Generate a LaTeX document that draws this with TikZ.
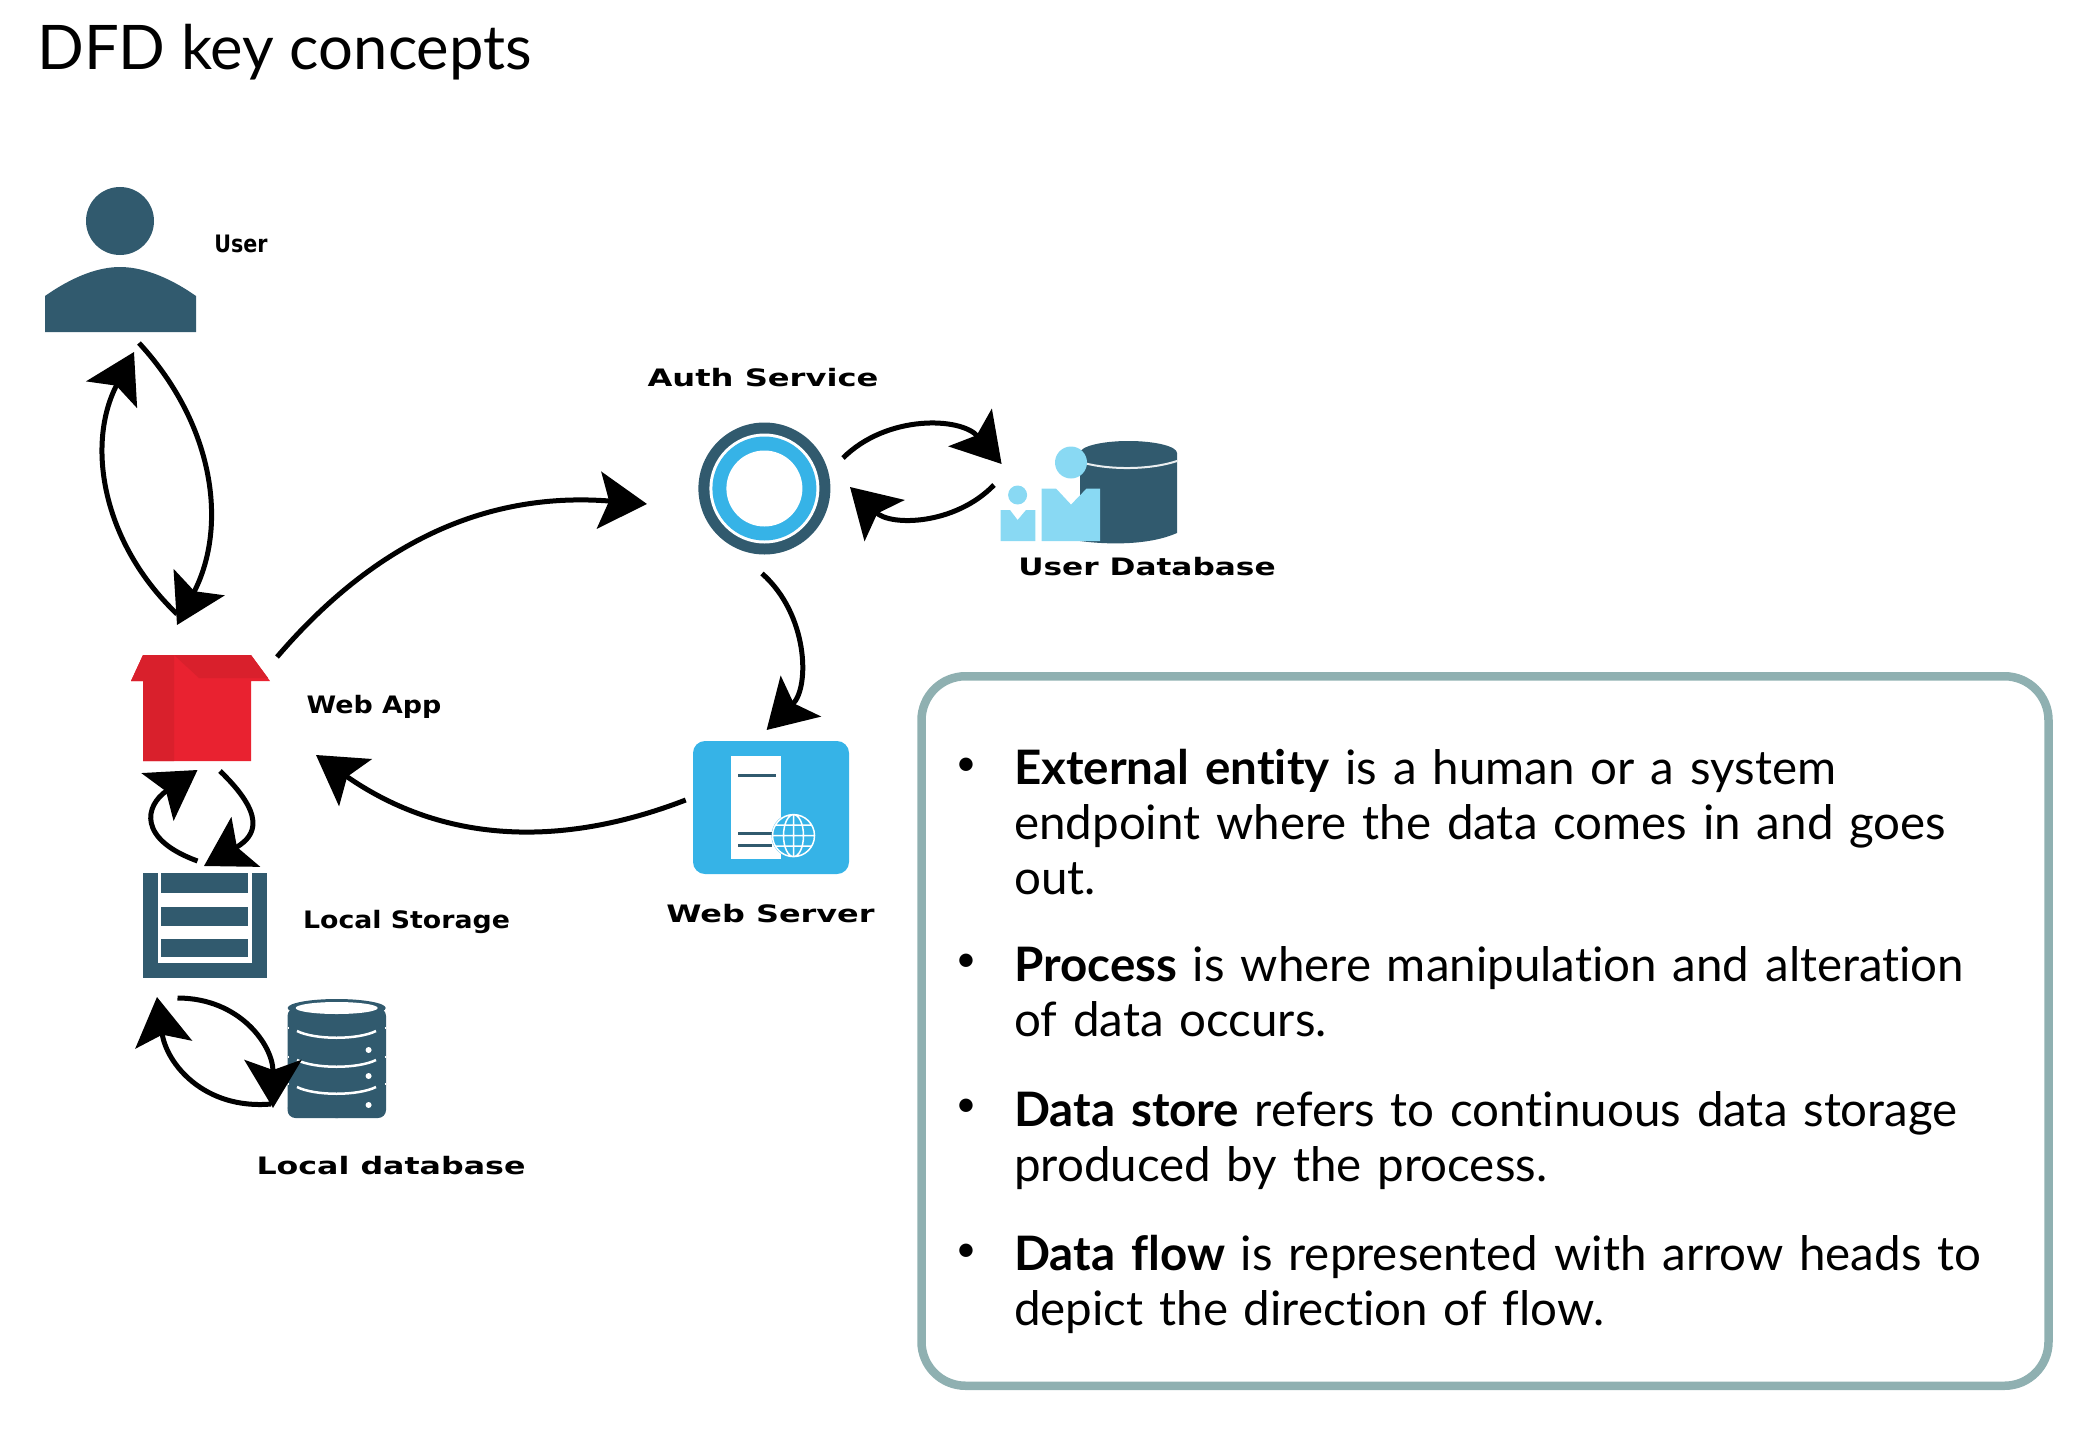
\documentclass[tikz,border=0pt]{standalone}
\usepackage{xcolor}
\usepackage{graphicx}
\usepackage{fontspec}
\setmainfont[Ligatures=NoCommon]{Lato}
\usetikzlibrary{arrows.meta,positioning}
\definecolor{slate}{HTML}{315A6E}
\definecolor{skyblue}{HTML}{36B3E7}
\definecolor{paleblue}{HTML}{89D9F3}
\definecolor{boxred}{HTML}{E92230}
\definecolor{boxreddark}{HTML}{D9202C}
\definecolor{boxedge}{HTML}{8FB0B1}
\newfontfamily\labelfont{DejaVu Sans}
\newcommand{\widelbl}[2]{\scalebox{#1}[1]{#2}}

\begin{document}
\begin{tikzpicture}[x=1pt,y=-1pt]
  \tikzset{
    icon/.style = {inner sep=0pt, outer sep=0pt, draw=none},
    lbl/.style = {inner sep=0pt, font=\labelfont\fontsize{24}{28}\selectfont\bfseries},
    flow/.style = {line width=5pt, -{Stealth[length=48pt,width=57pt,inset=10pt]}},
    keyitem/.style = {anchor=north west, inner sep=0pt, align=left, text width=1020pt, font=\fontsize{47.5}{55}\selectfont},
    dotitem/.style = {inner sep=0pt, font=\fontsize{36}{55}\selectfont}
  }
  \useasboundingbox (0,0) rectangle (2092,1434);

  % Title
  \node[anchor=west, inner sep=0pt, font=\fontsize{61.5}{70}\selectfont] (title) at (37,52) {DFD key concepts};

  % External entity
  \node[icon, minimum width=151pt, minimum height=145pt] (user) at (120,260) {};
  \fill[slate] (120,221) circle (34);
  \fill[slate] (45,332) -- (45,296) .. controls (75,275) and (100,267) .. (120,267) .. controls (140,267) and (166,275) .. (196,296) -- (196,332) -- cycle;
  \node[lbl] (userlbl) at (241,244) {\widelbl{0.86}{User}};

  % Web app
  \node[icon, minimum width=139pt, minimum height=106pt] (webapp) at (200.5,708) {};
  \fill[boxred] (143,655) -- (251,655) -- (270,681) -- (251,681) -- (251,761) -- (143,761) -- (143,681) -- (131,681) -- cycle;
  \fill[boxreddark] (143,681) -- (143,761) -- (174,761) -- (174,655) -- (143,655) -- (131,681) -- cycle;
  \fill[boxreddark] (174,655) -- (251,655) -- (268,678) -- (199,678) -- cycle;
  \node[lbl] (webapplbl) at (374,707) {\widelbl{1.12}{Web App}};

  % Local storage
  \node[icon, fill=slate, minimum width=124pt, minimum height=105pt] (store) at (205,925.5) {};
  \fill[white] (157.5,873) rectangle (252,963);
  \fill[slate] (161,873) rectangle (248,893);
  \fill[slate] (161,907) rectangle (248,926);
  \fill[slate] (161,939) rectangle (248,957);
  \node[lbl] (storelbl) at (406.5,922) {\widelbl{1.115}{Local Storage}};

  % Local database
  \node[icon, minimum width=99pt, minimum height=119pt] (db) at (337,1058) {};
  \fill[slate, rounded corners=8pt] (287.5,1008) rectangle (386,1118);
  \fill[slate] (336.7,1008) ellipse (49 and 9);
  \fill[slate] (336.7,1108) ellipse (49 and 10);
  \fill[white] (336.7,1008) ellipse (41 and 6);
  \foreach \yy in {1031,1060,1087} {
    \draw[white, line width=2.5pt] (297,\yy) .. controls (315,\yy+9) and (358,\yy+9) .. (376,\yy);
    \draw[white, line width=2pt] (287.5,\yy-3) -- (289,\yy-3) (384.5,\yy-3) -- (386,\yy-3);
  }
  \foreach \yy in {1050,1076,1105} {
    \fill[white] (368.6,\yy) circle (3);
  }
  \node[lbl] (dblbl) at (391,1166) {\widelbl{1.32}{Local database}};

  % Process
  \node[icon, circle, fill=slate, minimum size=132pt] (auth) at (764.4,488.5) {};
  \fill[white] (auth.center) circle (55);
  \fill[skyblue] (auth.center) circle (52);
  \fill[white] (auth.center) circle (38);
  \node[lbl] (authlbl) at (763,378) {\widelbl{1.34}{Auth Service}};

  % Web server
  \node[icon, fill=skyblue, rounded corners=12pt, minimum width=156pt, minimum height=133pt] (server) at (771,807.5) {};
  \fill[white] (730.6,756) rectangle (781,858.6);
  \draw[slate, line width=3pt] (738,775) -- (776,775);
  \draw[slate, line width=3pt] (738,833.7) -- (775,833.7);
  \draw[slate, line width=3pt] (738,845) -- (772,845);
  \fill[skyblue] (793.5,835.6) circle (22);
  \draw[white, line width=1.5pt] (793.5,835.6) circle (21) (793.5,835.6) ellipse (10 and 21) (793.5,814.6) -- (793.5,856.6) (772.5,835.6) -- (814.5,835.6) (775,825) -- (812,825) (775,846) -- (812,846);
  \node[lbl] (serverlbl) at (770.5,914) {\widelbl{1.33}{Web Server}};

  % User database
  \node[icon, minimum width=177pt, minimum height=102pt] (userdb) at (1088.5,492) {};
  \fill[slate] (1080,453) -- (1177,453) -- (1177,533) .. controls (1150,545) and (1110,545) .. (1080,541) -- cycle;
  \fill[slate] (1128.5,453) ellipse (48.5 and 12);
  \draw[white!90!slate, line width=2pt] (1084,463) .. controls (1110,470) and (1150,470) .. (1177,461);
  \fill[paleblue] (1071,462.5) circle (16);
  \fill[paleblue] (1041.5,488.5) -- (1056,488.5) -- (1071,504.6) -- (1086.6,488.5) -- (1100,488.5) -- (1100,541) -- (1041.5,541) -- cycle;
  \fill[paleblue] (1017.6,495) circle (9.5);
  \fill[paleblue] (1000.7,510) -- (1010,510) -- (1017.6,520) -- (1026,510) -- (1035.4,510) -- (1035.4,541) -- (1000.7,541) -- cycle;
  \node[lbl] (userdblbl) at (1147,567) {\widelbl{1.3}{User Database}};

  % Flows
  \draw[flow] ([shift={(-23.5,-94)}]webapp.center) to[bend left=37] ([shift={(14,92)}]user.center);
  \draw[flow] ([shift={(19,83)}]user.center) to[bend left=35] ([shift={(-23.5,-83)}]webapp.center);
  \draw[flow] ([shift={(76.5,-51)}]webapp.center) to[bend left=27] ([shift={(-117.4,15.5)}]auth.center);
  \draw[flow] ([shift={(-2.4,85)}]auth.center) to[bend left=47] ([shift={(-4.4,-77.5)}]server.center);
  \draw[flow] ([shift={(-85.3,-7.5)}]server.center) to[bend left=28] ([shift={(115.5,47)}]webapp.center);
  \draw[flow] ([shift={(78.6,-30.5)}]auth.center) to[bend left=47] ([shift={(-86.9,-28)}]userdb.center);
  \draw[flow] ([shift={(-94.5,-7)}]userdb.center) to[bend left=45] ([shift={(85.6,-1.5)}]auth.center);
  \draw[flow] ([shift={(-7.5,-64.5)}]store.center) to[out=160,in=214,looseness=1.8] ([shift={(-3,62)}]webapp.center);
  \draw[flow] ([shift={(19.5,63)}]webapp.center) to[out=-44,in=30,looseness=1.65] ([shift={(-1,-59.5)}]store.center);
  \draw[flow] ([shift={(-27.5,72.5)}]store.center) to[out=0,in=90,looseness=1.1] ([shift={(-64,50)}]db.center);
  \draw[flow] ([shift={(-66,46)}]db.center) to[out=185,in=-82,looseness=1.1] ([shift={(-48,71.5)}]store.center);

  % Key concepts box
  \node[draw=boxedge, line width=8.5pt, rounded corners=44pt, minimum width=1127pt, minimum height=709.5pt, inner sep=0pt] (keybox) at (1485,1031) {};
  \node[dotitem] (dot1) at (966,767) {•};
  \node[keyitem] (ext) at (1014,749) {\textbf{External entity} is a human or a system\\endpoint where the data comes in and goes\\out.};
  \node[dotitem] (dot2) at (966,963) {•};
  \node[keyitem] (proc) at (1014,946) {\textbf{Process} is where manipulation and alteration\\of data occurs.};
  \node[dotitem] (dot3) at (966,1108) {•};
  \node[keyitem] (store2) at (1014,1091) {\textbf{Data store} refers to continuous data storage\\produced by the process.};
  \node[dotitem] (dot4) at (966,1253) {•};
  \node[keyitem] (flowtxt) at (1014,1235) {\textbf{Data flow} is represented with arrow heads to\\depict the direction of flow.};
\end{tikzpicture}
\end{document}
